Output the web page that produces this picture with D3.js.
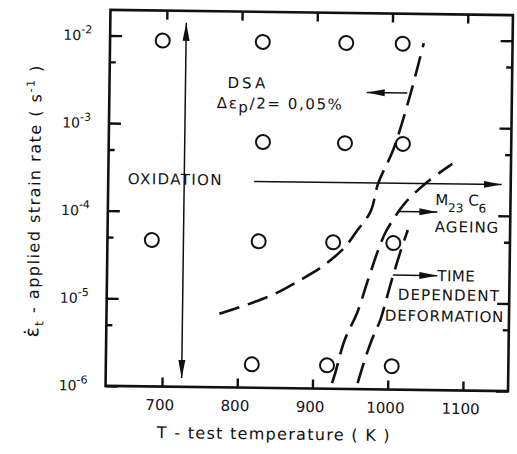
<!DOCTYPE html>
<html>
<head>
<meta charset="utf-8">
<script src="https://cdn.jsdelivr.net/npm/d3@7"></script>
<style>
body { margin: 0; background: #fff; }
svg { display: block; font-family: "DejaVu Sans", sans-serif; }
.tick line { stroke: #111; stroke-width: 2.4; }
.note { fill: #111; font-size: 15px; }
</style>
</head>
<body>
<script>
// tick values
var tempTicks = [700, 800, 900, 1000, 1100];
var rateMajor = [1e-6, 1e-5, 1e-4, 1e-3, 1e-2];
var rateMinor = [5e-6, 5e-5, 5e-4, 5e-3];
var rateExp = ["-6", "-5", "-4", "-3", "-2"];

// test conditions (open circles)
var testTemp = [695, 828, 939, 1014, 830, 939, 1016, 684, 826, 925, 1005, 819, 919, 1005];
var testRate = [8.9e-3, 8.9e-3, 8.9e-3, 8.9e-3, 6.4e-4, 6.4e-4, 6.4e-4,
                4.7e-5, 4.7e-5, 4.7e-5, 4.7e-5, 1.85e-6, 1.85e-6, 1.85e-6];

// dashed boundaries, [T, rate]
var dsaLine = [[775, 6.9e-6], [818, 9.3e-6], [851, 1.22e-5], [882, 1.73e-5], [908, 2.38e-5],
               [930, 3.38e-5], [941, 4.18e-5], [957, 6.5e-5], [974, 1.06e-4], [984, 2.27e-4],
               [1003, 5.4e-4], [1023, 2.03e-3], [1042, 9.1e-3]];
var ageLine = [[926, 1.16e-6], [930, 1.51e-6], [942, 3.62e-6], [958, 7.4e-6], [972, 1.77e-5],
               [985, 3.9e-5], [994, 6.12e-5], [1004, 8.63e-5], [1020, 1.36e-4], [1049, 2.37e-4],
               [1082, 3.85e-4]];
var timeLine = [[960, 1.17e-6], [969, 2.16e-6], [978, 3.66e-6], [989, 6.19e-6], [1001, 1.48e-5],
                [1014, 3.63e-5], [1024, 6.67e-5]];

// arrows: from [T, rate] to [T, rate]
var arrowFrom = [[726, 1.26e-6], [819, 2.27e-4], [1021, 2.44e-3], [1011, 1.08e-4], [1005, 2.03e-5]];
var arrowTo   = [[726, 1.43e-2], [1148, 2.27e-4], [967, 2.44e-3], [1063, 1.08e-4], [1064, 2.03e-5]];

// region labels, anchored at [T, rate]
var labelText = ["DSA", "OXIDATION", "AGEING", "TIME", "DEPENDENT", "DEFORMATION"];
var labelAt = [[782, 2.62e-3], [651, 2.03e-4], [1060, 6.38e-5], [1064, 1.76e-5], [1012, 1.06e-5], [995, 6.1e-6]];

var W = 517, H = 454;
var padL = 108, padR = 510.5, padT = 12.5, padB = 388.5;

var svg = d3.select("body").append("svg")
  .attr("width", W)
  .attr("height", H);

// the scanned figure is turned a little clockwise
var g = svg.append("g").attr("transform", "rotate(0.75,309,200)");

var x = d3.scaleLinear().domain([625, 1160]).range([padL, padR]);
var y = d3.scaleLog().domain([1e-6, Math.pow(10, -1.708)]).range([padB, padT]);

// arrow heads
var defs = svg.append("defs");
defs.append("marker")
  .attr("id", "head")
  .attr("viewBox", "-18 -4 18 8")
  .attr("refX", 0).attr("refY", 0)
  .attr("markerWidth", 18).attr("markerHeight", 8)
  .attr("markerUnits", "userSpaceOnUse")
  .attr("orient", "auto-start-reverse")
  .append("path")
  .attr("d", "M0,0L-18,-3.5L-18,3.5Z")
  .attr("fill", "#111");

// axes, ticks pointing inward
function clean(sel) { sel.select(".domain").remove(); }

g.append("g").attr("transform", "translate(0," + padB + ")")
  .call(d3.axisBottom(x).tickValues(tempTicks).tickSize(-9).tickFormat(""))
  .call(clean);
g.append("g").attr("transform", "translate(0," + padT + ")")
  .call(d3.axisTop(x).tickValues(tempTicks).tickSize(-9).tickFormat(""))
  .call(clean);
g.append("g").attr("transform", "translate(" + padL + ",0)")
  .call(d3.axisLeft(y).tickValues(rateMajor).tickSize(-12).tickFormat(""))
  .call(clean);
g.append("g").attr("transform", "translate(" + padL + ",0)")
  .call(d3.axisLeft(y).tickValues(rateMinor).tickSize(-6).tickFormat(""))
  .call(clean);
g.append("g").attr("transform", "translate(" + padR + ",0)")
  .call(d3.axisRight(y).tickValues(rateMajor).tickSize(-12).tickFormat(""))
  .call(clean);
g.append("g").attr("transform", "translate(" + padR + ",0)")
  .call(d3.axisRight(y).tickValues(rateMinor).tickSize(-6).tickFormat(""))
  .call(clean);

// frame
g.append("rect")
  .attr("x", padL).attr("y", padT)
  .attr("width", padR - padL).attr("height", padB - padT)
  .attr("fill", "none")
  .attr("stroke", "#111")
  .attr("stroke-width", 2.6);

// tick labels
g.selectAll("text.xlab")
  .data(tempTicks)
  .enter().append("text")
    .attr("class", "xlab")
    .attr("x", d => x(d) - 2)
    .attr("y", padB + 23.5)
    .attr("text-anchor", "middle")
    .attr("font-size", 15)
    .attr("fill", "#111")
    .text(d => d);

var ylab = g.selectAll("text.ylab")
  .data(rateMajor)
  .enter().append("text")
    .attr("class", "ylab")
    .attr("x", padL - 18)
    .attr("y", d => y(d) + 5)
    .attr("text-anchor", "end")
    .attr("fill", "#111");
ylab.append("tspan").attr("font-size", 14).text("10");
ylab.append("tspan").attr("font-size", 11).attr("dy", -7).text((d, i) => rateExp[i]);

// axis titles
g.append("text")
  .attr("x", 277)
  .attr("y", padB + 51.5)
  .attr("text-anchor", "middle")
  .attr("font-size", 16)
  .attr("letter-spacing", 1.3)
  .attr("fill", "#111")
  .text("T - test temperature ( K )");

var yt = g.append("text")
  .attr("transform", "translate(40,204.5) rotate(-90)")
  .attr("text-anchor", "middle")
  .attr("font-size", 16)
  .attr("letter-spacing", 1.5)
  .attr("fill", "#111");
yt.append("tspan").attr("font-size", 19).text("\u03b5\u0307");
yt.append("tspan").attr("font-size", 12).attr("dy", 5).text("t");
yt.append("tspan").attr("dy", -5).text(" - applied strain rate ( s");
yt.append("tspan").attr("font-size", 11).attr("dy", -7).text("-1");
yt.append("tspan").attr("dy", 7).text(" )");

// dashed boundaries
var line = d3.line()
  .x(d => x(d[0]))
  .y(d => y(d[1]))
  .curve(d3.curveCatmullRom.alpha(0.5));

g.selectAll("path.bound")
  .data([dsaLine, ageLine, timeLine])
  .enter().append("path")
    .attr("class", "bound")
    .attr("d", line)
    .attr("fill", "none")
    .attr("stroke", "#111")
    .attr("stroke-width", 2.6)
    .attr("stroke-dasharray", "21,9");

// arrows
g.selectAll("line.arrow")
  .data(arrowFrom)
  .enter().append("line")
    .attr("class", "arrow")
    .attr("x1", d => x(d[0]))
    .attr("y1", d => y(d[1]))
    .attr("x2", (d, i) => x(arrowTo[i][0]))
    .attr("y2", (d, i) => y(arrowTo[i][1]))
    .attr("stroke", "#111")
    .attr("stroke-width", 1.5)
    .attr("marker-end", "url(#head)")
    .attr("marker-start", (d, i) => i === 0 ? "url(#head)" : null);

// test points
g.selectAll("circle")
  .data(testTemp)
  .enter().append("circle")
    .attr("cx", d => x(d))
    .attr("cy", (d, i) => y(testRate[i]))
    .attr("r", 7)
    .attr("fill", "none")
    .attr("stroke", "#111")
    .attr("stroke-width", 2);

// region labels
var sizes = [16, 18, 15, 15, 15, 15];
var spacing = [3, 1.4, 1, 0.5, 1.1, 0.8];
g.selectAll("text.note")
  .data(labelText)
  .enter().append("text")
    .attr("class", "note")
    .attr("x", (d, i) => x(labelAt[i][0]))
    .attr("y", (d, i) => y(labelAt[i][1]))
    .attr("font-size", (d, i) => sizes[i])
    .attr("letter-spacing", (d, i) => spacing[i])
    .text(d => d);

// DSA amplitude
var amp = g.append("text")
  .attr("class", "note")
  .attr("x", x(768)).attr("y", y(1.54e-3))
  .attr("font-size", 18)
  .attr("letter-spacing", 1.6);
amp.append("tspan").text("\u0394\u03b5");
amp.append("tspan").attr("font-size", 15).attr("dy", 4).text("p");
amp.append("tspan").attr("dy", -4).text("/2= 0,05%");

// carbide label
var carb = g.append("text")
  .attr("class", "note")
  .attr("x", x(1060)).attr("y", y(1.3e-4))
  .attr("font-size", 15);
carb.append("tspan").text("M");
carb.append("tspan").attr("font-size", 12).attr("dy", 7).text("23");
carb.append("tspan").attr("dy", -7).text(" C");
carb.append("tspan").attr("font-size", 12).attr("dy", 7).text("6");
</script>
</body>
</html>
